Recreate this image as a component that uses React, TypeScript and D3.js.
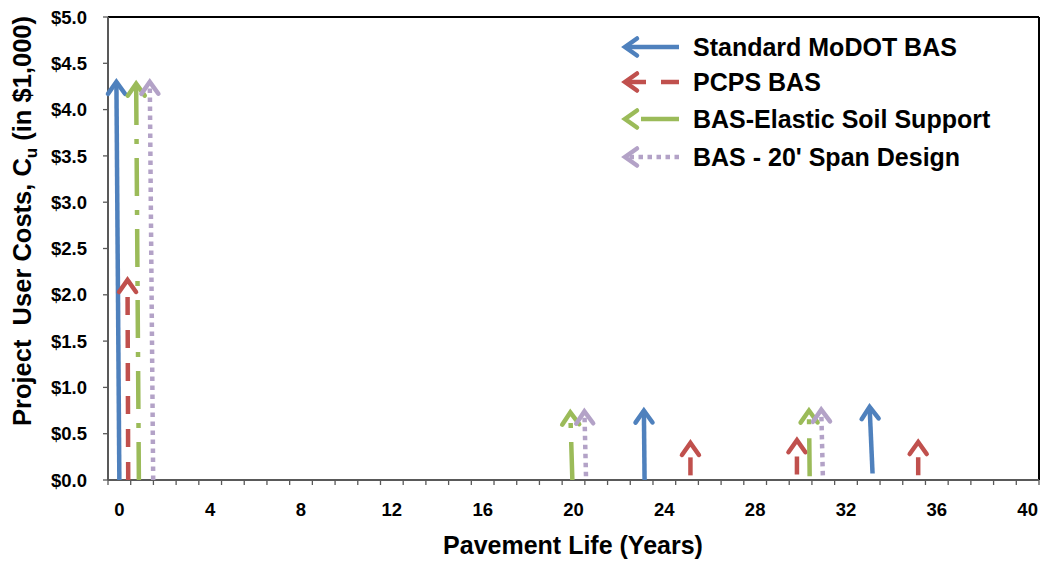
import React from "react";
import * as d3 from "d3";

// ---- data ----
const yTicks = [0, 0.5, 1, 1.5, 2, 2.5, 3, 3.5, 4, 4.5, 5];
const xLabelTicks = [0, 4, 8, 12, 16, 20, 24, 28, 32, 36, 40];

// each arrow: start (bottom) x0,y0 -> end (arrow tip) x1,y1
const modotX0 = [0, 23.13, 33.17];
const modotY0 = [0, 0, 0.07];
const modotX1 = [-0.13, 23.1, 33.04];
const modotY1 = [4.3, 0.75, 0.79];

const pcpsX0 = [0.39, 25.15, 29.84, 35.18];
const pcpsY0 = [0, 0.05, 0.06, 0.05];
const pcpsX1 = [0.36, 25.15, 29.84, 35.18];
const pcpsY1 = [2.16, 0.4, 0.43, 0.41];

const elasticX0 = [0.86, 19.95, 30.4];
const elasticY0 = [0, 0, 0.04];
const elasticX1 = [0.74, 19.86, 30.37];
const elasticY1 = [4.28, 0.73, 0.75];

const spanX0 = [1.49, 20.55, 30.98];
const spanY0 = [0, 0.04, 0.05];
const spanX1 = [1.34, 20.48, 30.91];
const spanY1 = [4.3, 0.74, 0.76];

const seriesNames = [
  "Standard MoDOT BAS",
  "PCPS BAS",
  "BAS-Elastic Soil Support",
  "BAS - 20' Span Design",
];

const series = [
  { name: seriesNames[0], x0: modotX0, y0: modotY0, x1: modotX1, y1: modotY1, color: "#4F81BD", dash: "none" },
  { name: seriesNames[1], x0: pcpsX0, y0: pcpsY0, x1: pcpsX1, y1: pcpsY1, color: "#C0504D", dash: "18,15" },
  { name: seriesNames[2], x0: elasticX0, y0: elasticY0, x1: elasticX1, y1: elasticY1, color: "#9BBB59", dash: "38,14,5,14" },
  { name: seriesNames[3], x0: spanX0, y0: spanY0, x1: spanX1, y1: spanY1, color: "#B3A2C7", dash: "4.5,4.5" },
];

const W = 1042;
const H = 561;
const left = 108;
const right = 1039;
const top = 17;
const bottom = 480;

const FONT = "'Liberation Sans', Arial, Helvetica, sans-serif";
const SW = 4.5;

function chevron(px: number, py: number, sx: number, sy: number, L = 12, Wd = 8.5) {
  const dx = px - sx;
  const dy = py - sy;
  const len = Math.hypot(dx, dy) || 1;
  const ux = dx / len;
  const uy = dy / len;
  const nx = -uy;
  const ny = ux;
  const ax = px - L * ux + Wd * nx;
  const ay = py - L * uy + Wd * ny;
  const bx = px - L * ux - Wd * nx;
  const by = py - L * uy - Wd * ny;
  return `M${ax},${ay}L${px},${py}L${bx},${by}`;
}

export default function App() {
  const x = d3.scaleLinear().domain([-0.5, 40.5]).range([left, right]);
  const y = d3.scaleLinear().domain([0, 5]).range([bottom, top]);
  const minorTicks = d3.range(-0.5, 40.51, 1);

  const legendX0 = 679;
  const legendX1 = 625;
  const legendY = [47, 82, 119, 157];

  return (
    <svg
      width={W}
      height={H}
      style={{ position: "absolute", left: 0, top: 0, background: "#fff" }}
      fontFamily={FONT}
    >
      <rect x={0} y={0} width={W} height={H} fill="#fff" />
      {/* plot border top/right */}
      <line x1={left} x2={right} y1={top} y2={top} stroke="#000" strokeWidth={2} />
      <line x1={right} x2={right} y1={top} y2={bottom} stroke="#000" strokeWidth={2} />

      {/* y axis */}
      <line x1={left} x2={left} y1={top} y2={bottom} stroke="#595959" strokeWidth={2} />
      {yTicks.map((t) => (
        <g key={"yt" + t}>
          <line x1={left - 5} x2={left} y1={y(t)} y2={y(t)} stroke="#595959" strokeWidth={1.3} />
          <text
            x={87}
            y={y(t)}
            dy="0.36em"
            textAnchor="end"
            fontSize={18.5}
            fontWeight="bold"
            fill="#000"
          >
            {"$" + t.toFixed(1)}
          </text>
        </g>
      ))}

      {/* x axis */}
      <line x1={left} x2={right} y1={bottom} y2={bottom} stroke="#595959" strokeWidth={2} />
      {minorTicks.map((t) => (
        <line key={"xt" + t} x1={x(t)} x2={x(t)} y1={bottom} y2={bottom + 5} stroke="#595959" strokeWidth={1.3} />
      ))}
      {xLabelTicks.map((t) => (
        <text key={"xl" + t} x={x(t)} y={516} textAnchor="middle" fontSize={18.5} fontWeight="bold" fill="#000">
          {t}
        </text>
      ))}

      {/* axis titles */}
      <text x={573} y={554} textAnchor="middle" fontSize={25} fontWeight="bold" fill="#000">
        Pavement Life (Years)
      </text>
      <text
        transform={`translate(31,${221}) rotate(-90)`}
        textAnchor="middle"
        fontSize={25.5}
        fontWeight="bold"
        fill="#000"
        style={{ whiteSpace: "pre" }}
      >
        {"Project  User Costs, C"}
        <tspan fontSize={17} dy={6}>u</tspan>
        <tspan dy={-6}>{" (in $1,000)"}</tspan>
      </text>

      {/* arrows */}
      {series.map((s, si) => (
        <g key={"s" + si}>
          {s.x0.map((_, i) => {
            const sx = x(s.x0[i]);
            const sy = y(s.y0[i]);
            const px = x(s.x1[i]);
            const py = y(s.y1[i]);
            return (
              <g key={i}>
                <line
                  x1={sx}
                  y1={sy}
                  x2={px}
                  y2={py}
                  stroke={s.color}
                  strokeWidth={SW}
                  strokeDasharray={s.dash}
                />
                <path
                  d={chevron(px, py, sx, sy)}
                  fill="none"
                  stroke={s.color}
                  strokeWidth={SW}
                  strokeLinejoin="miter"
                  strokeLinecap="round"
                />
              </g>
            );
          })}
        </g>
      ))}

      {/* legend */}
      {series.map((s, i) => (
        <g key={"lg" + i}>
          <line
            x1={legendX0}
            x2={legendX1}
            y1={legendY[i]}
            y2={legendY[i]}
            stroke={s.color}
            strokeWidth={SW}
            strokeDasharray={s.dash}
          />
          <path
            d={chevron(legendX1, legendY[i], legendX0, legendY[i])}
            fill="none"
            stroke={s.color}
            strokeWidth={SW}
            strokeLinejoin="miter"
            strokeLinecap="round"
          />
          <text x={693} y={legendY[i] + 9} fontSize={25} fontWeight="bold" fill="#000">
            {s.name}
          </text>
        </g>
      ))}
    </svg>
  );
}
